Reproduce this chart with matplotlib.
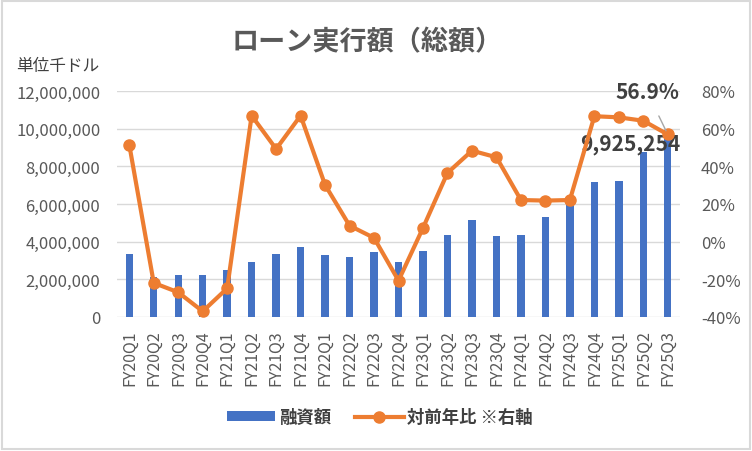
import matplotlib.pyplot as plt
from matplotlib.patches import Rectangle
from matplotlib.ticker import FuncFormatter, MultipleLocator

plt.rcParams['font.family'] = ['Noto Sans CJK JP', 'DejaVu Sans']

# 四半期
quarters = ['FY20Q1', 'FY20Q2', 'FY20Q3', 'FY20Q4',
            'FY21Q1', 'FY21Q2', 'FY21Q3', 'FY21Q4',
            'FY22Q1', 'FY22Q2', 'FY22Q3', 'FY22Q4',
            'FY23Q1', 'FY23Q2', 'FY23Q3', 'FY23Q4',
            'FY24Q1', 'FY24Q2', 'FY24Q3', 'FY24Q4',
            'FY25Q1', 'FY25Q2', 'FY25Q3']

# 融資額（千ドル）
loans = [3340000, 2100000, 2230000, 2230000,
         2490000, 2920000, 3340000, 3710000,
         3290000, 3180000, 3450000, 2930000,
         3500000, 4350000, 5150000, 4310000,
         4370000, 5320000, 6000000, 7160000,
         7220000, 8750000, 9925254]

# 対前年比（%）
yoy = [51.5, -21.9, -26.9, -37.0,
       -24.8, 66.9, 49.2, 66.9,
       30.1, 8.5, 2.0, -20.7,
       7.3, 36.5, 48.3, 44.8,
       22.1, 21.8, 22.1, 66.6,
       66.0, 64.2, 56.9]

azul = '#4472C4'
naranja = '#ED7D31'
gris = '#595959'

fig = plt.figure(figsize=(7.52, 4.52), dpi=100)
ax = fig.add_axes([0.1556, 0.2965, 0.7487, 0.5])
ax2 = ax.twinx()

x = list(range(len(quarters)))
ax.bar(x, loans, width=0.3, color=azul, zorder=2, label='融資額')
ax2.plot(x, yoy, color=naranja, lw=3, marker='o', ms=8,
         zorder=3, label='対前年比 ※右軸')

ax.set_xlim(-0.5, len(quarters) - 0.5)
ax.set_ylim(0, 12000000)
ax.yaxis.set_major_locator(MultipleLocator(2000000))
ax.yaxis.set_major_formatter(FuncFormatter(lambda v, p: f'{int(v):,}'))
ax2.set_ylim(-40, 80)
ax2.yaxis.set_major_locator(MultipleLocator(20))
ax2.yaxis.set_major_formatter(FuncFormatter(lambda v, p: f'{int(v)}%'))

ax.grid(axis='y', color='#d9d9d9', lw=1, zorder=0)
ax.set_axisbelow(True)
for a in (ax, ax2):
    for s in a.spines.values():
        s.set_visible(False)
    a.tick_params(length=0, labelsize=12, labelcolor=gris)
ax.tick_params(axis='y', pad=12)
ax2.tick_params(axis='y', pad=15)
ax.set_xticks(x)
ax.set_xticklabels(quarters, rotation=90, fontsize=11.5, color=gris)
ax.tick_params(axis='x', pad=9)

# ラベル（最後の四半期）
ax.annotate(f'{loans[-1]:,}', (x[-1], loans[-1]), xytext=(-27, -10),
            textcoords='offset points', ha='center', va='center',
            fontsize=15, fontweight='bold', color='#404040', zorder=5)
ax2.annotate(f'{yoy[-1]}%', (x[-1], yoy[-1]), xytext=(-15, 31),
             textcoords='offset points', ha='center', va='center',
             fontsize=15, fontweight='bold', color='#404040', zorder=5,
             arrowprops=dict(arrowstyle='-', color='#a6a6a6', lw=1,
                             shrinkA=9, shrinkB=3))

fig.text(0.488, 0.907, 'ローン実行額（総額）', ha='center', va='center',
         fontsize=19.5, fontweight='bold', color=gris)
fig.text(0.022, 0.853, '単位千ドル', ha='left', va='center',
         fontsize=12, color='#404040')

h1, l1 = ax.get_legend_handles_labels()
h2, l2 = ax2.get_legend_handles_labels()
fig.legend(h1 + h2, l1 + l2, loc='center', bbox_to_anchor=(0.505, 0.075),
           ncol=2, frameon=False, handlelength=2.8, handleheight=0.5,
           handletextpad=0.2, columnspacing=1.4, labelcolor='#404040',
           prop={'weight': 'bold', 'size': 12.5})

fig.patches.append(Rectangle((0.003, 0.004), 0.994, 0.992, transform=fig.transFigure,
                             fill=False, edgecolor='#d9d9d9', lw=1.5))

fig.savefig('out.png', dpi=100)
